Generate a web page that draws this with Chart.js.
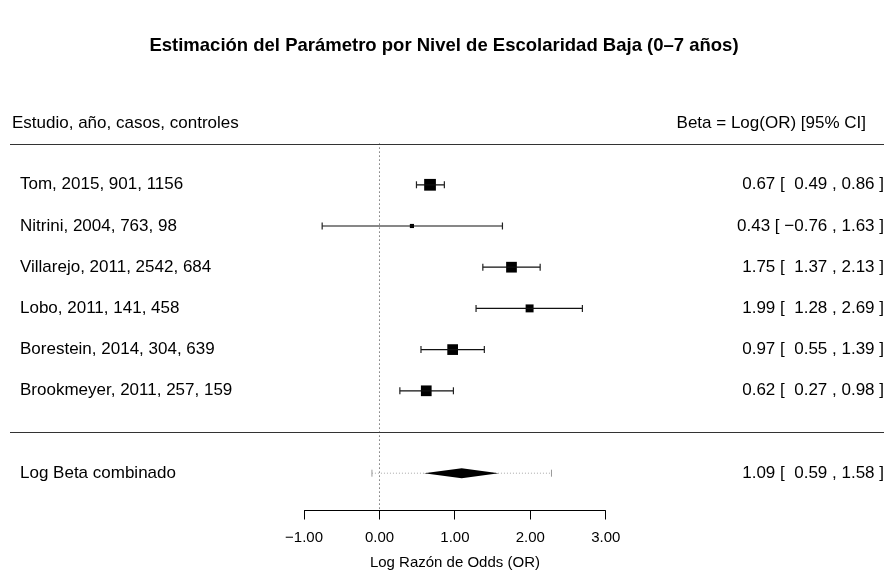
<!DOCTYPE html>
<html>
<head>
<meta charset="utf-8">
<script src="https://cdn.jsdelivr.net/npm/chart.js@4.4.0/dist/chart.umd.min.js"></script>
<style>
  html, body { margin: 0; padding: 0; background: #fff; }
</style>
</head>
<body>
<canvas id="forest" width="885" height="572"></canvas>
<script>
// datos del forest plot
const titulo = 'Estimación del Parámetro por Nivel de Escolaridad Baja (0–7 años)';
const estudios = [
    'Tom, 2015, 901, 1156',
    'Nitrini, 2004, 763, 98',
    'Villarejo, 2011, 2542, 684',
    'Lobo, 2011, 141, 458',
    'Borestein, 2014, 304, 639',
    'Brookmeyer, 2011, 257, 159'
];
const filas = [6, 5, 4, 3, 2, 1];
const beta = [0.67, 0.43, 1.75, 1.99, 0.97, 0.62];
const inferior = [0.49, -0.76, 1.37, 1.28, 0.55, 0.27];
const superior = [0.86, 1.63, 2.13, 2.69, 1.39, 0.98];
const pesos = [24, 3, 20, 11, 20, 20];
const combinado = { label: 'Log Beta combinado', est: 1.09, lo: 0.59, hi: 1.58, fila: -1 };
const prediccion = [-0.10, 2.28];
const ticksX = [-1, 0, 1, 2, 3];
const cabeceraIzq = 'Estudio, año, casos, controles';
const cabeceraDer = 'Beta = Log(OR) [95% CI]';
const tituloEje = 'Log Razón de Odds (OR)';

const FUENTE = '"Liberation Sans", Arial, Helvetica, sans-serif';
const filaEje = -1.9;

function fmt(v) {
    return v < 0 ? '\u2212' + Math.abs(v).toFixed(2) : ' ' + v.toFixed(2);
}
function textoIC(e, lo, hi) {
    return e.toFixed(2) + ' [ ' + fmt(lo) + ' , ' + hi.toFixed(2) + ' ]';
}

// segmentos de IC con huecos entre estudios
const segmentos = [];
filas.forEach((f, i) => {
    segmentos.push({ x: inferior[i], y: f });
    segmentos.push({ x: superior[i], y: f });
    segmentos.push({ x: superior[i], y: null });
});
const maxPeso = Math.max(...pesos);
const radios = pesos.map(w => 8.3 * Math.sqrt(w / maxPeso));

const dibujo = {
    id: 'dibujo',
    afterDatasetsDraw(chart) {
        const ctx = chart.ctx;
        const x = chart.scales.x, y = chart.scales.y;
        const area = chart.chartArea;
        ctx.save();

        // titulo
        ctx.fillStyle = '#000';
        ctx.font = 'bold 18.5px ' + FUENTE;
        ctx.textAlign = 'center';
        ctx.textBaseline = 'middle';
        ctx.fillText(titulo, 444, 46);

        // lineas separadoras
        ctx.strokeStyle = '#333';
        ctx.lineWidth = 1;
        [7, 0].forEach(f => {
            const py = Math.round(y.getPixelForValue(f)) + 0.5;
            ctx.beginPath();
            ctx.moveTo(area.left + 10, py);
            ctx.lineTo(area.right - 1, py);
            ctx.stroke();
        });

        // cabeceras
        ctx.font = '17px ' + FUENTE;
        ctx.textAlign = 'left';
        ctx.fillText(cabeceraIzq, 12, y.getPixelForValue(7.5));
        ctx.textAlign = 'right';
        ctx.fillText(cabeceraDer, 866, y.getPixelForValue(7.5));

        // etiquetas de estudios
        filas.forEach((f, i) => {
            const py = y.getPixelForValue(f);
            ctx.textAlign = 'left';
            ctx.fillText(estudios[i], 20, py);
            ctx.textAlign = 'right';
            ctx.fillText(textoIC(beta[i], inferior[i], superior[i]), 884, py);
        });
        const pyC = y.getPixelForValue(combinado.fila);
        ctx.textAlign = 'left';
        ctx.fillText(combinado.label, 20, pyC);
        ctx.textAlign = 'right';
        ctx.fillText(textoIC(combinado.est, combinado.lo, combinado.hi), 884, pyC);

        // diamante
        const h = 5;
        ctx.fillStyle = '#000';
        ctx.beginPath();
        ctx.moveTo(x.getPixelForValue(combinado.lo), pyC);
        ctx.lineTo(x.getPixelForValue(combinado.est), pyC - h);
        ctx.lineTo(x.getPixelForValue(combinado.hi), pyC);
        ctx.lineTo(x.getPixelForValue(combinado.est), pyC + h);
        ctx.closePath();
        ctx.fill();

        // eje x
        const pyE = Math.round(y.getPixelForValue(filaEje)) + 0.5;
        ctx.strokeStyle = '#000';
        ctx.beginPath();
        ctx.moveTo(x.getPixelForValue(ticksX[0]), pyE);
        ctx.lineTo(x.getPixelForValue(ticksX[ticksX.length - 1]), pyE);
        ticksX.forEach(t => {
            const px = Math.round(x.getPixelForValue(t) - 0.5) + 0.5;
            ctx.moveTo(px, pyE);
            ctx.lineTo(px, pyE + 9);
        });
        ctx.stroke();
        ctx.fillStyle = '#000';
        ctx.textAlign = 'center';
        ctx.font = '15px ' + FUENTE;
        ticksX.forEach(t => {
            const s = t < 0 ? '\u2212' + Math.abs(t).toFixed(2) : t.toFixed(2);
            ctx.fillText(s, x.getPixelForValue(t), pyE + 27);
        });
        ctx.fillText(tituloEje, x.getPixelForValue(1), pyE + 52);
        ctx.restore();
    }
};

new Chart(document.getElementById('forest'), {
    type: 'scatter',
    data: {
        datasets: [
            {
                // linea de referencia en 0
                type: 'line',
                data: [{ x: 0, y: 7 }, { x: 0, y: filaEje }],
                borderColor: '#333',
                borderWidth: 1,
                borderDash: [1, 3],
                pointRadius: 0
            },
            {
                // intervalo de prediccion
                type: 'line',
                data: [{ x: prediccion[0], y: combinado.fila }, { x: prediccion[1], y: combinado.fila }],
                borderColor: '#aaa',
                borderWidth: 1,
                borderDash: [1, 2],
                pointStyle: 'line',
                rotation: 90,
                pointRadius: 3.5,
                pointBorderColor: '#999',
                pointBorderWidth: 1
            },
            {
                // intervalos de confianza
                type: 'line',
                data: segmentos,
                spanGaps: false,
                borderColor: '#111',
                borderWidth: 1.2,
                pointStyle: 'line',
                rotation: 90,
                pointRadius: 3.5,
                pointBorderColor: '#222',
                pointBorderWidth: 1.2
            },
            {
                // estimaciones
                data: filas.map((f, i) => ({ x: beta[i], y: f })),
                pointStyle: 'rect',
                pointRadius: radios,
                backgroundColor: '#000',
                borderColor: '#000',
                pointBorderWidth: 0
            }
        ]
    },
    options: {
        responsive: false,
        animation: false,
        layout: { padding: 0, autoPadding: false },
        plugins: { legend: { display: false }, tooltip: { enabled: false }, title: { display: false } },
        scales: {
            x: { type: 'linear', min: -5.0312, max: 6.7018, display: false },
            y: { type: 'linear', min: -3.398, max: 10.485, display: false }
        }
    },
    plugins: [dibujo]
});
</script>
</body>
</html>
